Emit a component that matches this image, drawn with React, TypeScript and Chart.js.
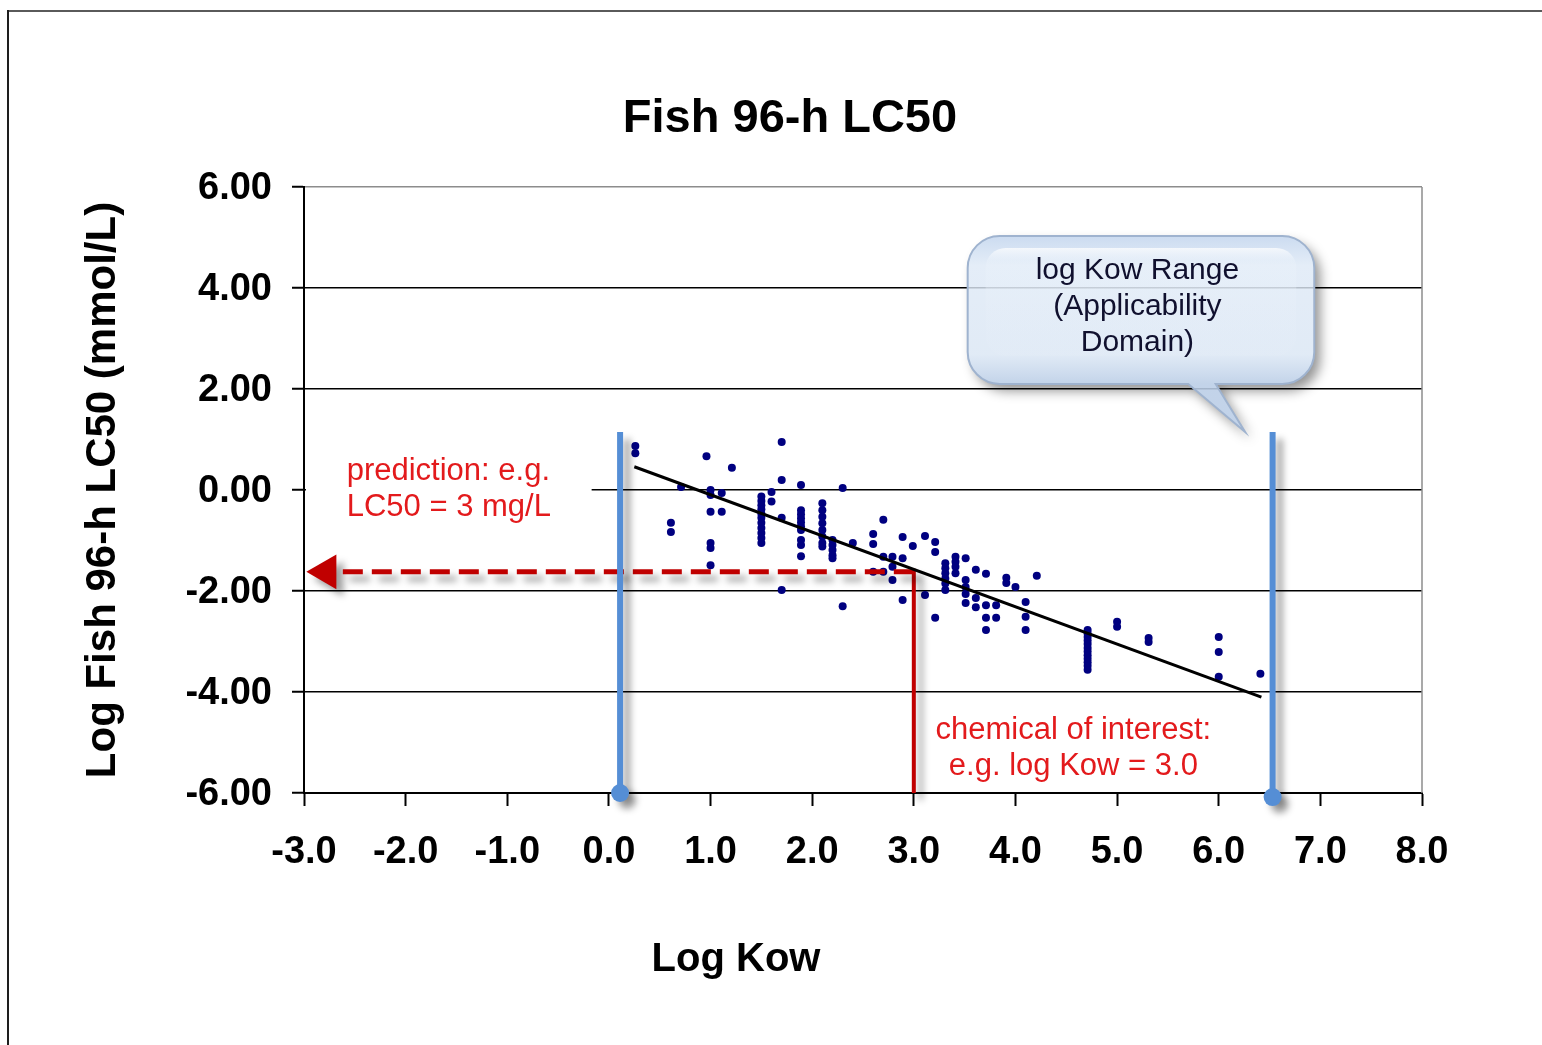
import { useEffect, useRef } from "react";
import { Chart, registerables } from "chart.js";

Chart.register(...registerables);

const W = 1542;
const H = 1045;
const PLOT_LEFT = 304;
const PLOT_RIGHT = 1422;
const PLOT_TOP = 187;
const PLOT_BOTTOM = 793;
const FONT = "'Liberation Sans', Arial, sans-serif";

// ---- text ----
const CHART_TITLE = "Fish 96-h LC50";
const X_AXIS_TITLE = "Log Kow";
const Y_AXIS_TITLE = "Log Fish 96-h LC50 (mmol/L)";
const CALLOUT_LINES = ["log Kow Range", "(Applicability", "Domain)"];
const PREDICTION_LINES = ["prediction: e.g.", "LC50 = 3 mg/L"];
const CHEMICAL_LINES = ["chemical of interest:", "e.g. log Kow = 3.0"];

// ---- axes ----
const X_MIN = -3;
const X_MAX = 8;
const X_STEP = 1;
const Y_MIN = -6;
const Y_MAX = 6;
const Y_STEP = 2;

// ---- training set: log Kow values and the log LC50 values observed at each ----
const TRAIN_LOG_KOW = [
  0.26, 0.61, 0.71, 0.96, 1.0, 1.11, 1.21, 1.5, 1.6, 1.7, 1.89, 2.1, 2.2, 2.3, 2.4,
  2.6, 2.7, 2.79, 2.89, 2.99, 3.11, 3.21, 3.31, 3.41, 3.51, 3.61, 3.71, 3.81, 3.91,
  4.0, 4.1, 4.21, 4.71, 5.0, 5.31, 6.0, 6.41,
];
const TRAIN_LOG_LC50 = [
  [0.87, 0.73],
  [-0.65, -0.83],
  [0.06],
  [0.67],
  [0.0, -0.1, -0.43, -1.05, -1.15, -1.49],
  [-0.06, -0.43],
  [0.44],
  [-0.13, -0.22, -0.3, -0.38, -0.47, -0.55, -0.65, -0.75, -0.85, -0.95, -1.05],
  [-0.04, -0.23],
  [0.95, 0.2, -0.55, -1.98],
  [0.1, -0.4, -0.48, -0.56, -0.64, -0.72, -0.79, -0.99, -1.09, -1.31],
  [-0.26, -0.4, -0.53, -0.66, -0.79, -0.92, -1.05, -1.12],
  [-0.99, -1.09, -1.19, -1.29, -1.35],
  [0.04, -2.3],
  [-1.05],
  [-0.87, -1.07, -1.62],
  [-0.59, -1.32, -1.62],
  [-1.32, -1.52, -1.78],
  [-0.93, -1.35, -2.18],
  [-1.11],
  [-0.91, -2.08],
  [-1.03, -1.23, -2.53],
  [-1.45, -1.55, -1.65, -1.75, -1.85, -1.98],
  [-1.32, -1.42, -1.52, -1.65],
  [-1.35, -1.78, -1.92, -2.06, -2.24],
  [-1.58, -2.14, -2.32],
  [-1.66, -2.28, -2.53, -2.77],
  [-2.28, -2.53],
  [-1.74, -1.84],
  [-1.92],
  [-2.22, -2.51, -2.77],
  [-1.7],
  [-2.77, -2.84, -2.91, -2.98, -3.05, -3.13, -3.2, -3.27, -3.34, -3.41, -3.48, -3.56],
  [-2.61, -2.71],
  [-2.93, -3.01],
  [-2.91, -3.21, -3.7],
  [-3.64],
];

// ---- regression line end points ----
const FIT_LOG_KOW = [0.25, 6.42];
const FIT_LOG_LC50 = [0.46, -4.1];

// ---- applicability domain limits ----
const DOMAIN_LOG_KOW = [0.11, 6.53];
const DOMAIN_TOP = [1.15, 1.15];
const DOMAIN_BOTTOM = [-6.0, -6.08];

// ---- example prediction ----
const QUERY_LOG_KOW = 3.0;
const QUERY_TOP = -1.56;
const PREDICTED_LOG_LC50 = -1.62;
const ARROW_END_LOG_KOW = -2.62;
const ARROW_HEAD_LOG_KOW = -2.78;

const trainPoints = TRAIN_LOG_KOW.flatMap((k, i) =>
  TRAIN_LOG_LC50[i].map((v) => ({ x: k, y: v }))
);

const shadowPlugin = {
  id: "dsShadow",
  beforeDatasetDraw(chart: any, args: any) {
    const ds = chart.data.datasets[args.index];
    if (ds.shadow) {
      const ctx = chart.ctx;
      ctx.save();
      ctx.shadowColor = "rgba(0,0,0,0.38)";
      ctx.shadowBlur = 7;
      ctx.shadowOffsetX = 7;
      ctx.shadowOffsetY = 7;
    }
  },
  afterDatasetDraw(chart: any, args: any) {
    const ds = chart.data.datasets[args.index];
    if (ds.shadow) chart.ctx.restore();
  },
};

function calloutPath(L: number, T: number, R: number, B: number, r: number, t1: number, t2: number, tipX: number, tipY: number) {
  const p = new Path2D();
  p.moveTo(L + r, T);
  p.lineTo(R - r, T);
  p.arcTo(R, T, R, T + r, r);
  p.lineTo(R, B - r);
  p.arcTo(R, B, R - r, B, r);
  p.lineTo(t2, B);
  p.lineTo(tipX, tipY);
  p.lineTo(t1, B);
  p.lineTo(L + r, B);
  p.arcTo(L, B, L, B - r, r);
  p.lineTo(L, T + r);
  p.arcTo(L, T, L + r, T, r);
  p.closePath();
  return p;
}

const decorPlugin = {
  id: "decor",
  beforeDraw(chart: any) {
    const { ctx, width, height } = chart;
    ctx.save();
    ctx.fillStyle = "#ffffff";
    ctx.fillRect(0, 0, width, height);
    ctx.restore();
  },
  beforeDatasetsDraw(chart: any) {
    const { ctx, chartArea: a, scales } = chart;
    const x = scales.x;
    const y = scales.y;
    ctx.save();
    // gray right border of plot area
    ctx.strokeStyle = "#8c8c8c";
    ctx.lineWidth = 1.5;
    ctx.beginPath();
    ctx.moveTo(a.right, a.top);
    ctx.lineTo(a.right, a.bottom);
    ctx.stroke();
    // white background of prediction label
    const bx0 = a.left + 2;
    const bx1 = x.getPixelForValue(-0.17);
    const by0 = y.getPixelForValue(0.69);
    const by1 = y.getPixelForValue(-0.63);
    ctx.fillStyle = "#ffffff";
    ctx.fillRect(bx0, by0, bx1 - bx0, by1 - by0);
    ctx.restore();
  },
  afterDraw(chart: any) {
    const { ctx, width, height, scales } = chart;
    const x = scales.x;
    const y = scales.y;
    ctx.save();

    // outer frame
    ctx.lineWidth = 2;
    ctx.strokeStyle = "#5a5a5a";
    ctx.beginPath();
    ctx.moveTo(8, 11);
    ctx.lineTo(width, 11);
    ctx.stroke();
    ctx.strokeStyle = "#1e1e1e";
    ctx.beginPath();
    ctx.moveTo(8, 10);
    ctx.lineTo(8, height);
    ctx.stroke();

    // chart title and x axis title
    ctx.fillStyle = "#000";
    ctx.textAlign = "center";
    ctx.textBaseline = "middle";
    ctx.font = `bold 47px ${FONT}`;
    ctx.fillText(CHART_TITLE, 790, 119);
    ctx.font = `bold 40px ${FONT}`;
    ctx.fillText(X_AXIS_TITLE, 736, 960);

    // red annotations
    ctx.fillStyle = "#e31a1c";
    ctx.font = `31px ${FONT}`;
    ctx.textAlign = "left";
    ctx.fillText(PREDICTION_LINES[0], x.getPixelForValue(-2.58), y.getPixelForValue(0.36));
    ctx.fillText(PREDICTION_LINES[1], x.getPixelForValue(-2.58), y.getPixelForValue(-0.34));
    ctx.textAlign = "center";
    ctx.fillText(CHEMICAL_LINES[0], x.getPixelForValue(4.57), y.getPixelForValue(-4.77));
    ctx.fillText(CHEMICAL_LINES[1], x.getPixelForValue(4.57), y.getPixelForValue(-5.47));

    // callout
    const L = x.getPixelForValue(3.53);
    const R = x.getPixelForValue(6.94);
    const T = y.getPixelForValue(5.03);
    const B = y.getPixelForValue(2.1);
    const path = calloutPath(
      L, T, R, B, 32,
      x.getPixelForValue(5.7), x.getPixelForValue(5.97),
      x.getPixelForValue(6.26), y.getPixelForValue(1.15)
    );
    // shadow only outside the shape
    ctx.save();
    const clip = new Path2D();
    clip.rect(0, 0, width, height);
    clip.addPath(path);
    ctx.clip(clip, "evenodd");
    ctx.shadowColor = "rgba(0,0,0,0.42)";
    ctx.shadowBlur = 12;
    ctx.shadowOffsetX = 6 + 5000;
    ctx.shadowOffsetY = 7;
    ctx.translate(-5000, 0);
    ctx.fillStyle = "#000";
    ctx.fill(path);
    ctx.restore();

    const g = ctx.createLinearGradient(0, T, 0, B);
    g.addColorStop(0, "rgba(196,214,238,0.88)");
    g.addColorStop(0.2, "rgba(222,233,246,0.82)");
    g.addColorStop(0.8, "rgba(218,230,244,0.82)");
    g.addColorStop(1, "rgba(186,205,230,0.88)");
    ctx.fillStyle = g;
    ctx.fill(path);
    ctx.lineWidth = 2;
    ctx.strokeStyle = "#9fb3cf";
    ctx.stroke(path);

    // inner glossy highlight
    ctx.save();
    ctx.beginPath();
    (ctx as any).roundRect(L + 18, T + 12, R - L - 36, B - T - 40, 20);
    const hg = ctx.createLinearGradient(0, T + 12, 0, B - 28);
    hg.addColorStop(0, "rgba(255,255,255,0.75)");
    hg.addColorStop(0.12, "rgba(236,243,251,0.35)");
    hg.addColorStop(1, "rgba(230,238,248,0.15)");
    ctx.fillStyle = hg;
    ctx.fill();
    ctx.restore();

    ctx.fillStyle = "#10102e";
    ctx.font = `30px ${FONT}`;
    ctx.textAlign = "center";
    const cx = x.getPixelForValue(5.2);
    ctx.fillText(CALLOUT_LINES[0], cx, y.getPixelForValue(4.34));
    ctx.fillText(CALLOUT_LINES[1], cx, y.getPixelForValue(3.62));
    ctx.fillText(CALLOUT_LINES[2], cx, y.getPixelForValue(2.91));

    ctx.restore();
  },
};

export default function App() {
  const ref = useRef<HTMLCanvasElement>(null);

  useEffect(() => {
    if (!ref.current) return;
    const blue = "#558ed5";
    const red = "#c00000";
    const chart = new Chart(ref.current, {
      type: "scatter",
      data: {
        datasets: [
          {
            label: "domain low",
            data: [
              { x: DOMAIN_LOG_KOW[0], y: DOMAIN_TOP[0] },
              { x: DOMAIN_LOG_KOW[0], y: DOMAIN_BOTTOM[0] },
            ],
            showLine: true,
            borderColor: blue,
            borderWidth: 6,
            backgroundColor: blue,
            pointRadius: [0, 9],
            pointBorderWidth: 0,
            clip: false,
            shadow: true,
          } as any,
          {
            label: "domain high",
            data: [
              { x: DOMAIN_LOG_KOW[1], y: DOMAIN_TOP[1] },
              { x: DOMAIN_LOG_KOW[1], y: DOMAIN_BOTTOM[1] },
            ],
            showLine: true,
            borderColor: blue,
            borderWidth: 6,
            backgroundColor: blue,
            pointRadius: [0, 9],
            pointBorderWidth: 0,
            clip: false,
            shadow: true,
          } as any,
          {
            label: "fit",
            data: FIT_LOG_KOW.map((k, i) => ({ x: k, y: FIT_LOG_LC50[i] })),
            showLine: true,
            borderColor: "#000",
            borderWidth: 3,
            pointRadius: 0,
            clip: false,
          },
          {
            label: "prediction",
            data: [
              { x: QUERY_LOG_KOW, y: PREDICTED_LOG_LC50 },
              { x: ARROW_END_LOG_KOW, y: PREDICTED_LOG_LC50 },
            ],
            showLine: true,
            borderColor: red,
            borderWidth: 5,
            borderDash: [20, 9],
            pointRadius: 0,
            clip: false,
            shadow: true,
          } as any,
          {
            label: "arrow",
            data: [{ x: ARROW_HEAD_LOG_KOW, y: PREDICTED_LOG_LC50 }],
            pointStyle: "triangle",
            rotation: -90,
            pointRadius: 20,
            backgroundColor: red,
            borderWidth: 0,
            clip: false,
            shadow: true,
          } as any,
          {
            label: "query",
            data: [
              { x: QUERY_LOG_KOW, y: Y_MIN },
              { x: QUERY_LOG_KOW, y: QUERY_TOP },
            ],
            showLine: true,
            borderColor: red,
            borderWidth: 4,
            pointRadius: 0,
            clip: false,
            shadow: true,
          } as any,
          {
            label: "training set",
            data: trainPoints,
            backgroundColor: "#000080",
            borderWidth: 0,
            pointRadius: 4,
            pointStyle: "circle",
          },
        ],
      },
      options: {
        animation: false,
        responsive: false,
        events: [],
        layout: {
          padding: { left: 0, top: PLOT_TOP, right: W - PLOT_RIGHT, bottom: 0 },
        },
        plugins: {
          legend: { display: false },
          tooltip: { enabled: false },
          title: { display: false },
        },
        scales: {
          x: {
            type: "linear",
            min: X_MIN,
            max: X_MAX,
            afterFit: (s: any) => {
              s.height = H - PLOT_BOTTOM;
            },
            ticks: {
              stepSize: X_STEP,
              autoSkip: false,
              maxRotation: 0,
              callback: (v: any) => Number(v).toFixed(1),
              font: { family: FONT, size: 38, weight: "bold" },
              color: "#000",
              padding: 24,
            },
            grid: {
              drawOnChartArea: false,
              drawTicks: true,
              tickLength: 13,
              tickColor: "#000",
              tickWidth: 2,
            },
            border: { color: "#000", width: 2 },
          },
          y: {
            type: "linear",
            min: Y_MIN,
            max: Y_MAX,
            afterFit: (s: any) => {
              s.width = PLOT_LEFT;
            },
            ticks: {
              stepSize: Y_STEP,
              callback: (v: any) => Number(v).toFixed(2),
              font: { family: FONT, size: 38, weight: "bold" },
              color: "#000",
              padding: 20,
              labelOffset: 2,
            },
            grid: {
              color: (c: any) => (c.tick && c.tick.value === Y_MAX ? "#8c8c8c" : "#000"),
              lineWidth: 1.5,
              drawTicks: true,
              tickLength: 12,
              tickColor: "#000",
              tickWidth: 2,
            },
            border: { color: "#000", width: 2 },
            title: {
              display: true,
              text: Y_AXIS_TITLE,
              font: { family: FONT, size: 42, weight: "bold" },
              color: "#000",
              padding: { top: 78, bottom: 0 },
            },
          },
        },
      } as any,
      plugins: [shadowPlugin, decorPlugin],
    });
    return () => chart.destroy();
  }, []);

  return (
    <div style={{ position: "absolute", left: 0, top: 0, width: W, height: H, background: "#fff" }}>
      <canvas ref={ref} width={W} height={H} style={{ display: "block" }} />
    </div>
  );
}
